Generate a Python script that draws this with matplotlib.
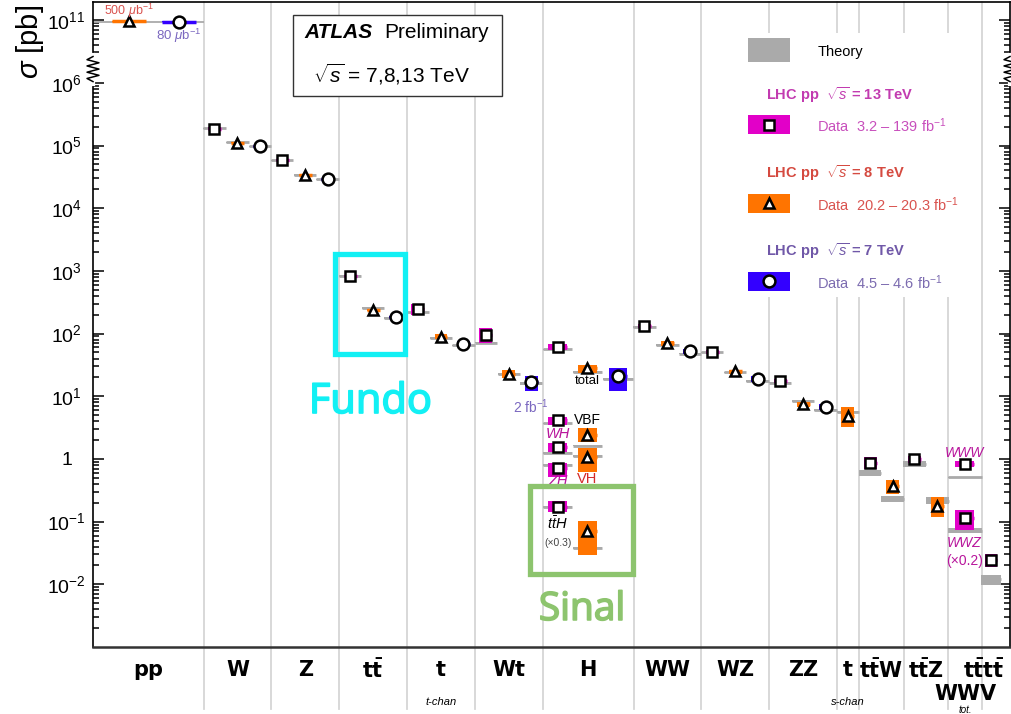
import numpy as np
import matplotlib
matplotlib.use('Agg')
import matplotlib.pyplot as plt
import matplotlib.transforms as mtransforms
import matplotlib.patheffects as pe
from matplotlib.patches import Rectangle
from matplotlib.ticker import FixedLocator

plt.rcParams['font.family'] = ['Liberation Sans', 'DejaVu Sans']
plt.rcParams['mathtext.fontset'] = 'custom'
plt.rcParams['mathtext.rm'] = 'Liberation Sans'
plt.rcParams['mathtext.it'] = 'Liberation Sans:italic'
plt.rcParams['mathtext.bf'] = 'Liberation Sans:bold'

# process columns along x (width in units of a 3-energy column)
columns = ['pp', 'W', 'Z', 'ttbar', 't_t', 'Wt', 'H', 'WW', 'WZ', 'ZZ',
           't_s', 'ttW', 'ttZ', 'WWV', 'tttt']
col_widths = [1.63, 1, 1, 1, 1, 1, 1.34, 1, 1, 1, 0.32, 0.66, 0.66, 0.5, 0.41]
col_labels = ['pp', 'W', 'Z', r'$\mathbf{t\bar{t}}$', 't', 'Wt', 'H', 'WW', 'WZ',
              'ZZ', 't', r'$\mathbf{t\bar{t}W}$', r'$\mathbf{t\bar{t}Z}$', '',
              r'$\mathbf{t\bar{t}t\bar{t}}$']

# sqrt(s) = 13 TeV  [pb]
cat13 = ['W', 'Z', 'ttbar', 't_t', 'Wt', 'H', 'H', 'H', 'H', 'H',
         'WW', 'WZ', 'ZZ', 'ttW', 'ttZ', 'WWV', 'WWV', 'tttt']
sig13 = [1.87e5, 5.8e4, 830, 247, 94, 61, 4.2, 1.57, 0.73, 0.174,
         132, 50.6, 17.5, 0.87, 0.99, 0.82, 0.113, 0.024]
lo13 = [1.80e5, 5.6e4, 790, 198, 71, 55, 3.5, 1.31, 0.52, 0.144,
        123, 47.5, 16.0, 0.69, 0.85, 0.74, 0.074, 0.019]
hi13 = [1.95e5, 6.0e4, 870, 300, 121, 68, 4.7, 1.82, 0.87, 0.21,
        142, 54, 19.0, 1.07, 1.12, 0.93, 0.154, 0.031]
th13 = [1.9e5, 5.8e4, 832, 217, 71.7, 56, 3.7, 1.25, 0.80, 0.17,
        128, 50, 16.5, 0.60, 0.84, 0.51, 0.072, 0.012]
thlo13 = [1.87e5, 5.7e4, 810, 210, 69.5, 54.5, 3.65, 1.22, 0.78, 0.165,
          125, 48.5, 16.0, 0.53, 0.75, 0.50, 0.066, 0.0098]
thhi13 = [1.93e5, 5.9e4, 855, 224, 74, 57.5, 3.75, 1.28, 0.82, 0.175,
          131, 51.5, 17.0, 0.67, 0.93, 0.52, 0.078, 0.0142]

# sqrt(s) = 8 TeV
cat8 = ['pp', 'W', 'Z', 'ttbar', 't_t', 'Wt', 'H', 'H', 'H', 'H',
        'WW', 'WZ', 'ZZ', 't_s', 'ttW', 'ttZ']
sig8 = [9.6e10, 1.11e5, 3.4e4, 242, 89.6, 22.5, 28, 2.4, 1.09, 0.072,
        70, 25, 7.4, 4.9, 0.37, 0.178]
lo8 = [9.4e10, 1.08e5, 3.3e4, 233, 82, 19.6, 23.7, 1.89, 0.63, 0.029,
       64, 23, 6.8, 3.24, 0.28, 0.12]
hi8 = [9.8e10, 1.14e5, 3.5e4, 251, 98, 26, 31.6, 3.08, 1.48, 0.103,
       77, 26.5, 8.1, 6.7, 0.47, 0.25]
th8 = [np.nan, 1.12e5, 3.4e4, 253, 84.7, 22.4, 24.5, 1.63, 1.12, 0.038,
       66, 24, 8.3, 5.6, 0.23, 0.215]
thlo8 = [np.nan, 1.09e5, 3.3e4, 245, 82, 21.7, 23.8, 1.59, 1.09, 0.036,
         64, 23.3, 8.0, 5.4, 0.206, 0.19]
thhi8 = [np.nan, 1.15e5, 3.5e4, 261, 87, 23.1, 25.2, 1.67, 1.15, 0.040,
         68, 24.7, 8.6, 5.8, 0.257, 0.245]

# sqrt(s) = 7 TeV
cat7 = ['pp', 'W', 'Z', 'ttbar', 't_t', 'Wt', 'H', 'WW', 'WZ', 'ZZ']
sig7 = [9.5e10, 9.8e4, 2.9e4, 182, 68, 16.8, 21, 51.9, 19, 6.7]
lo7 = [9.3e10, 9.6e4, 2.84e4, 175, 60, 12.3, 12, 48, 17, 6.1]
hi7 = [9.7e10, 1.0e5, 2.96e4, 190, 76, 21, 28.5, 56, 21, 7.4]
th7 = [np.nan, 9.7e4, 2.9e4, 177, 64.6, 16, 19, 48, 17.6, 6.0]
thlo7 = [np.nan, 9.5e4, 2.84e4, 171, 62.5, 15.4, 18.4, 46.5, 17.0, 5.8]
thhi7 = [np.nan, 9.9e4, 2.96e4, 183, 66.7, 16.6, 19.6, 49.5, 18.2, 6.2]

pp_theory = 9.5e10

# x offset of each energy inside its column
default_slot = {13: 0.16, 8: 0.5, 7: 0.83}
slots = {'pp': {8: 0.53, 7: 1.27}, 'H': {13: 0.22, 8: 0.66, 7: 1.11},
         't_s': {8: 0.16}, 'ttW': {13: 0.17, 8: 0.5}, 'ttZ': {13: 0.16, 8: 0.5},
         'WWV': {13: 0.24}, 'tttt': {13: 0.13}}
band_w = {'pp': 0.5, 'H': 0.27, 'WWV': 0.28}
theory_w = {'H': 0.43, 'WWV': 0.5, 'tttt': 0.3, 't_s': 0.32}

c13, c8, c7 = '#e200c8', '#ff7400', '#3300ff'
grey = '#aaaaaa'


# y axis: log scale with 1e6 .. 1e11 squeezed together
def fwd(v):
    lv = np.log10(np.clip(np.asarray(v, dtype=float), 1e-300, None))
    return np.where(lv <= 6, lv, np.where(lv >= 10.5, lv - 4.0, 6 + (lv - 6) / 9.0))


def inv(d):
    d = np.asarray(d, dtype=float)
    return np.where(d <= 6, 10.0 ** d,
                    np.where(d >= 6.5, 10.0 ** (d + 4.0), 10.0 ** (6 + (d - 6) * 9.0)))


fig = plt.figure(figsize=(10.11, 7.14), dpi=100)
ax = fig.add_axes([93 / 1011, 67 / 714, 917 / 1011, 645 / 714])
ax.set_yscale('function', functions=(fwd, inv))

edges = np.concatenate([[0], np.cumsum(col_widths)])
ax.set_xlim(0, edges[-1])
ax.set_ylim(1e-3, 10 ** 11.29)

xa = mtransforms.blended_transform_factory(ax.transData, ax.transAxes)
for e in edges[1:-1]:
    ax.plot([e, e], [-0.096, 1], color='#d6d6d6', lw=1.3, transform=xa,
            clip_on=False, zorder=0.5)


def draw_series(cats, sig, lo, hi, th, thlo, thhi, energy, color, marker, ms):
    for c, s, l, h, t, tl, tu in zip(cats, sig, lo, hi, th, thlo, thhi):
        i = columns.index(c)
        x = edges[i] + slots.get(c, default_slot)[energy]
        tw = theory_w.get(c, 0.33)
        bw = band_w.get(c, 0.19)
        if not np.isnan(t):
            ax.bar(x, tu - tl, bottom=tl, width=tw, color=grey, zorder=2)
            ax.hlines(t, x - tw / 2, x + tw / 2, color=grey, lw=2, zorder=2)
        ax.bar(x, h - l, bottom=l, width=bw, color=color, zorder=3)
        ax.hlines(s, x - bw / 2, x + bw / 2, color=color, lw=2.5, zorder=3)
        ax.plot(x, s, marker=marker, ms=ms, mfc='white', mec='black', mew=1.8,
                zorder=4)


ax.hlines(pp_theory, edges[0], edges[1], color=grey, lw=1.3, zorder=2)
draw_series(cat13, sig13, lo13, hi13, th13, thlo13, thhi13, 13, c13, 's', 7)
draw_series(cat8, sig8, lo8, hi8, th8, thlo8, thhi8, 8, c8, '^', 7.5)
draw_series(cat7, sig7, lo7, hi7, th7, thlo7, thhi7, 7, c7, 'o', 8.5)

# axis ticks
major = [1e-2, 1e-1, 1, 1e1, 1e2, 1e3, 1e4, 1e5, 1e6, 1e11]
major_lbl = [r'$10^{-2}$', r'$10^{-1}$', '1', r'$10^{1}$', r'$10^{2}$',
             r'$10^{3}$', r'$10^{4}$', r'$10^{5}$', r'$10^{6}$', r'$10^{11}$']
ax.set_yticks(major, major_lbl)
minor = [k * 10.0 ** d for d in range(-3, 6) for k in range(2, 10)]
minor += [k * 1e10 for k in range(3, 10)]
ax.yaxis.set_minor_locator(FixedLocator(minor))
ax.set_xticks([])
ax.tick_params(axis='y', which='both', direction='in', left=True, right=True,
               width=1.1)
ax.tick_params(axis='y', which='major', length=8, labelsize=14, pad=19)
ax.tick_params(axis='y', which='minor', length=4)
for lbl in ax.get_yticklabels():
    lbl.set_horizontalalignment('center')
for sp in ax.spines.values():
    sp.set_linewidth(1.2)
ax.spines['bottom'].set_color('#333333')
ax.spines['bottom'].set_linewidth(1.8)

# axis break marks
y0, y1 = (6.02 + 3) / 10.29, (6.42 + 3) / 10.29
zz_y = np.linspace(y0, y1, 9)
for xs in (0, 1):
    ax.plot([xs, xs], [y0 - 0.003, y1 + 0.003], color='white', lw=3,
            transform=ax.transAxes, clip_on=False, zorder=6)
    zz_x = xs + np.array([0, -1, 1, -1, 1, -1, 1, -1, 0]) * 0.0065
    ax.plot(zz_x, zz_y, color='black', lw=1.1, transform=ax.transAxes,
            clip_on=False, zorder=7)

fig.text(0.03, 0.993, r'$\sigma$ [pb]', rotation=90, ha='center', va='top',
         fontsize=21)

# category labels below the frame
for i, lbl in enumerate(col_labels):
    xc = 0.5 * (edges[i] + edges[i + 1])
    ha = 'center'
    if columns[i] == 'tttt':
        xc, ha = edges[-1] - 0.07, 'right'
    ax.text(xc, -0.036, lbl, transform=xa, ha=ha, va='center', fontsize=15,
            fontweight='bold', family='DejaVu Sans', math_fontfamily='dejavusans')
iw = columns.index('WWV')
ax.text(0.5 * (edges[iw] + edges[iw + 1]), -0.073, 'WWV', transform=xa,
        ha='center', va='center', fontsize=15, fontweight='bold',
        family='DejaVu Sans')
for key, note, yy, fs in (('t_t', 't-chan', -0.085, 8), ('t_s', 's-chan', -0.085, 8),
                          ('WWV', 'tot.', -0.098, 7)):
    i = columns.index(key)
    ax.text(0.5 * (edges[i] + edges[i + 1]), yy, note, transform=xa,
            ha='center', va='center', fontsize=fs, style='italic')


def xpos(col, energy):
    return edges[columns.index(col)] + slots.get(col, default_slot)[energy]


# labels next to individual measurements
notes = [
    ('pp', 8, 1.4e11, r'500 $\mu$b$^{-1}$', '#d9534f', 'normal', 9),
    ('pp', 7, 5.6e10, r'80 $\mu$b$^{-1}$', '#7b68c0', 'normal', 9.5),
    ('Wt', 7, 6.7, r'2 fb$^{-1}$', '#7b68c0', 'normal', 10),
    ('H', 8, 17.8, 'total', 'black', 'normal', 9.5),
    ('H', 8, 4.25, 'VBF', 'black', 'normal', 10),
    ('H', 13, 2.5, 'WH', '#b8169c', 'italic', 10.5),
    ('H', 13, 0.45, 'ZH', '#b8169c', 'italic', 10.5),
    ('H', 8, 0.48, 'VH', '#d42a2a', 'normal', 10.5),
    ('H', 13, 0.092, r'$t\bar{t}H$', 'black', 'normal', 10.5),
    ('H', 13, 0.046, '(×0.3)', '#444444', 'normal', 7.5),
    ('WWV', 13, 1.25, 'WWW', '#b8169c', 'italic', 10),
    ('WWV', 13, 0.046, 'WWZ', '#b8169c', 'italic', 10),
    ('WWV', 13, 0.0236, '(×0.2)', '#b8169c', 'normal', 10),
]
for col, en, yv, txt, colr, st, fs in notes:
    ax.text(xpos(col, en), yv, txt, color=colr, style=st, fontsize=fs,
            ha='center', va='center', zorder=6)

# experiment box
ax.add_patch(Rectangle((0.218, 0.854), 0.228, 0.126, transform=ax.transAxes,
                       facecolor='white', edgecolor='#333333', lw=1, zorder=5))
ax.text(0.231, 0.952, 'ATLAS', transform=ax.transAxes, fontsize=15,
        fontweight='bold', style='italic', va='center', zorder=6)
ax.text(0.318, 0.952, 'Preliminary', transform=ax.transAxes, fontsize=15,
        va='center', zorder=6)
ax.text(0.24, 0.888, r'$\sqrt{s}$ = 7,8,13 TeV', transform=ax.transAxes,
        fontsize=15, va='center', zorder=6)

# legend
ax.add_patch(Rectangle((0.667, 0.543), 0.295, 0.409, transform=ax.transAxes,
                       facecolor='white', edgecolor='none', zorder=1))
ax.add_patch(Rectangle((0.714, 0.907), 0.0458, 0.037, transform=ax.transAxes,
                       facecolor=grey, edgecolor='none', zorder=5))
ax.text(0.79, 0.922, 'Theory', transform=ax.transAxes, fontsize=10.5,
        va='center', zorder=6)
legend_rows = [
    (0.856, 0.81, c13, 's', 7, r'LHC pp  $\sqrt{s}$ = 13 TeV', '#c23bb0',
     r'Data  3.2 – 139 fb$^{-1}$', '#c84fbc'),
    (0.735, 0.688, c8, '^', 7.5, r'LHC pp  $\sqrt{s}$ = 8 TeV', '#d54a40',
     r'Data  20.2 – 20.3 fb$^{-1}$', '#d9534f'),
    (0.614, 0.567, c7, 'o', 8.5, r'LHC pp  $\sqrt{s}$ = 7 TeV', '#7058a8',
     r'Data  4.5 – 4.6 fb$^{-1}$', '#7c6cb0'),
]
for yh, yb, colr, mk, ms, head, hc, dat, dc in legend_rows:
    ax.text(0.734, yh, head, transform=ax.transAxes, fontsize=10.5,
            fontweight='bold', color=hc, va='center', zorder=6)
    ax.add_patch(Rectangle((0.714, yb - 0.0148), 0.0458, 0.0296,
                           transform=ax.transAxes, facecolor=colr,
                           edgecolor='none', zorder=5))
    ax.plot(0.737, yb, marker=mk, ms=ms, mfc='white', mec='black', mew=1.8,
            transform=ax.transAxes, zorder=6)
    ax.text(0.79, yb - 0.002, dat, transform=ax.transAxes, fontsize=10.5,
            color=dc, va='center', zorder=6)

# highlighted regions
cyan, green = '#12f0f4', '#8dc46e'
ax.add_patch(Rectangle((3.57, 47), 1.03, 1860 - 47, facecolor='none',
                       edgecolor=cyan, lw=3.8, zorder=8))
ax.text(4.09, 8.1, 'Fundo', color=cyan, fontsize=30, family='Open Sans',
        ha='center', va='center', zorder=8,
        path_effects=[pe.withStroke(linewidth=1.2, foreground=cyan)])
ax.add_patch(Rectangle((6.45, 0.0147), 1.51, 0.371 - 0.0147, facecolor='none',
                       edgecolor=green, lw=3.8, zorder=8))
ax.text(7.21, 0.0039, 'Sinal', color=green, fontsize=28, family='Open Sans',
        ha='center', va='center', zorder=8,
        path_effects=[pe.withStroke(linewidth=1.2, foreground=green)])

fig.savefig('out.png', dpi=100)
